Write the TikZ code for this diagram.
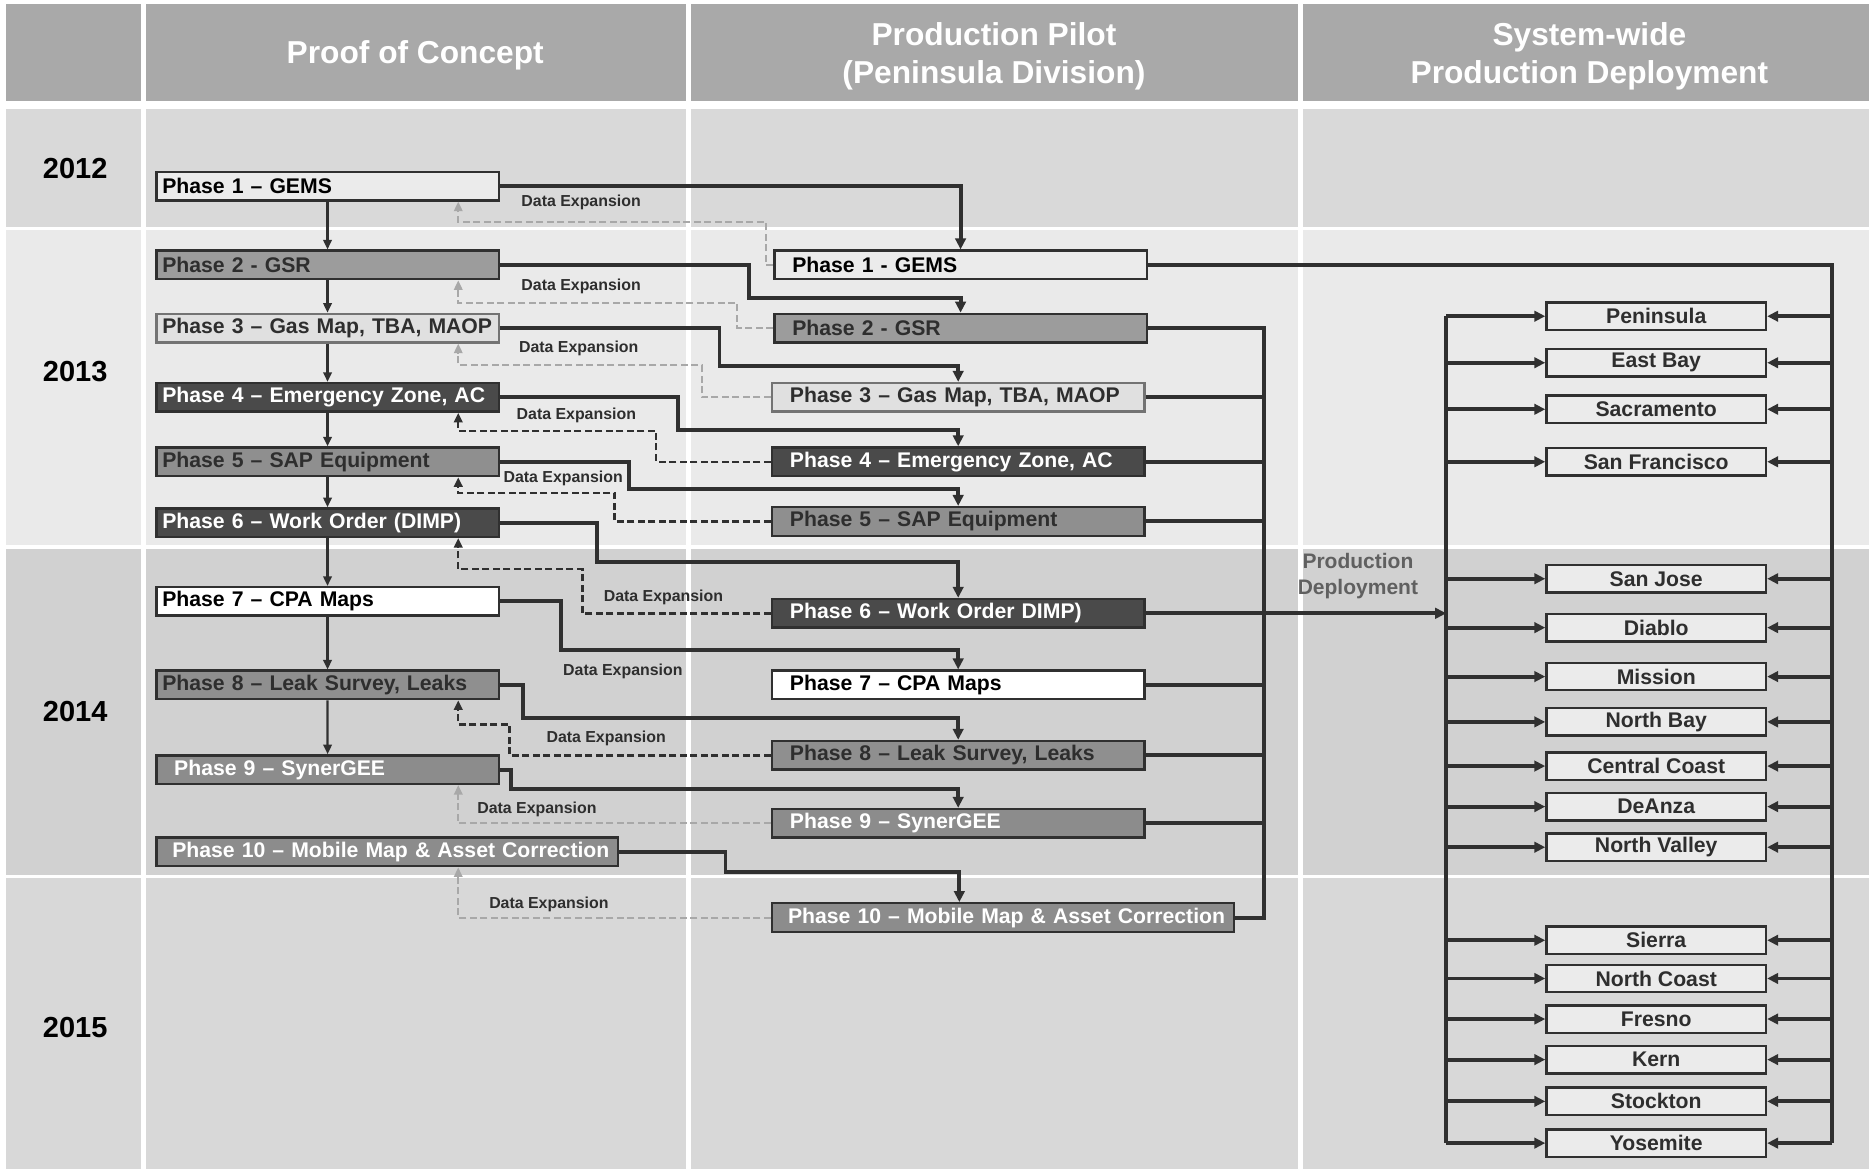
\documentclass[tikz,border=0pt]{standalone}
\usepackage{fontspec}
\setmainfont{Liberation Sans}
\usetikzlibrary{arrows.meta}
\definecolor{hdr}{HTML}{A9A9A9}
\definecolor{b12}{HTML}{D9D9D9}
\definecolor{b13}{HTML}{EAEAEA}
\definecolor{b14}{HTML}{D1D1D1}
\definecolor{b15}{HTML}{D8D8D8}
\definecolor{ink}{HTML}{2E2E2E}
\definecolor{lineclr}{HTML}{303030}
\definecolor{lightdash}{HTML}{A8A8A8}
\begin{document}
\begin{tikzpicture}[x=1.1932pt,y=-1.1932pt,
  box/.style={draw=lineclr, line width=2.4pt, anchor=north west, minimum height=28.6pt,
    inner ysep=0pt, align=left, font=\fontsize{21.2}{24}\selectfont\bfseries},
  lbox/.style={box, inner xsep=5.97pt, text width=330.5pt},
  lboxi/.style={box, inner xsep=17.9pt, text width=306.7pt},
  mbox/.style={box, inner xsep=17.9pt, text width=336.5pt},
  widebox/.style={box, inner xsep=16pt, text width=429.8pt},
  rbox/.style={draw=lineclr, line width=2.4pt, fill=tA, minimum width=219.5pt, minimum height=27.4pt,
    inner sep=0pt, text=ink, font=\fontsize{21.2}{24}\selectfont\bfseries},
  toneA/.style={fill=tA, text=black},
  toneB/.style={fill=tB, text=ink},
  toneC/.style={fill=tC, text=ink, draw=gray!90!black},
  toneD/.style={fill=tD, text=white},
  toneE/.style={fill=tE, text=ink},
  toneW/.style={fill=white, text=black},
  toneF/.style={fill=tF, text=white},
  conn/.style={draw=lineclr, line width=3.9pt, -{Triangle[length=11pt,width=10.5pt]}},
  busline/.style={draw=lineclr, line width=3.9pt},
  varrow/.style={draw=lineclr, line width=2.2pt, -{Triangle[length=9.5pt,width=8.5pt]}},
  delight/.style={draw=lightdash, line width=1.9pt, dash pattern=on 7pt off 3.5pt, -{Triangle[length=9.5pt,width=8.5pt]}},
  dedark/.style={draw=lineclr, line width=2.4pt, dash pattern=on 7pt off 3.5pt, -{Triangle[length=9.5pt,width=8.5pt]}},
  delabel/.style={text=ink, font=\fontsize{15.9}{18}\selectfont\bfseries, inner sep=0pt},
  year/.style={text=black, font=\fontsize{29}{32}\selectfont\bfseries},
  hdrtxt/.style={text=white, align=center, font=\fontsize{31.7}{38}\selectfont\bfseries},
  pdlabel/.style={text=gray!75!black, align=center, font=\fontsize{21}{26}\selectfont\bfseries}
]
\colorlet{tA}{black!8}
\colorlet{tB}{black!39}
\colorlet{tC}{black!12}
\colorlet{tD}{black!71}
\colorlet{tE}{black!44}
\colorlet{tF}{black!45}
\useasboundingbox (0,0) rectangle (1568,982);
\fill[white] (0,0) rectangle (1568,982);
% bands
\foreach \ya/\yb/\c in {3/85/hdr, 91/190/b12, 193/457/b13, 460/733/b14, 736/980/b15} {
  \foreach \xa/\xb in {5/118, 122/575, 579/1088, 1092/1566} {
    \fill[\c] (\xa,\ya) rectangle (\xb,\yb);
  }
}
% headers and years
\node[hdrtxt] (h1) at (348,46) {Proof of Concept};
\node[hdrtxt] (h2) at (833,47) {Production Pilot\\(Peninsula Division)};
\node[hdrtxt] (h3) at (1332,47) {System-wide\\Production Deployment};
\node[year] (y12) at (63,141) {2012};
\node[year] (y13) at (63,311) {2013};
\node[year] (y14) at (63,596) {2014};
\node[year] (y15) at (63,861) {2015};
% proof of concept boxes
\node[lbox, toneA] (p1) at (130,143) {Phase 1 – GEMS};
\node[lbox, toneB] (p2) at (130,209) {Phase 2 - GSR};
\node[lbox, toneC] (p3) at (130,262) {Phase 3 – Gas Map, TBA, MAOP};
\node[lbox, toneD] (p4) at (130,320) {Phase 4 – Emergency Zone, AC};
\node[lbox, toneE] (p5) at (130,374) {Phase 5 – SAP Equipment};
\node[lbox, toneD] (p6) at (130,425) {Phase 6 – Work Order (DIMP)};
\node[lbox, toneW] (p7) at (130,491) {Phase 7 – CPA Maps};
\node[lbox, toneE] (p8) at (130,561) {Phase 8 – Leak Survey, Leaks};
\node[lboxi, toneF] (p9) at (130,632) {Phase 9 – SynerGEE};
\node[widebox, toneF] (p10) at (130,701) {\mbox{Phase 10 – Mobile Map \& Asset Correction}};
% pilot boxes
\node[mbox, toneA] (m1) at (648,209) {Phase 1 - GEMS};
\node[mbox, toneB] (m2) at (648,262) {Phase 2 - GSR};
\node[mbox, toneC] (m3) at (646,320) {Phase 3 – Gas Map, TBA, MAOP};
\node[mbox, toneD] (m4) at (646,374) {Phase 4 – Emergency Zone, AC};
\node[mbox, toneE] (m5) at (646,424) {Phase 5 – SAP Equipment};
\node[mbox, toneD] (m6) at (646,501) {Phase 6 – Work Order DIMP)};
\node[mbox, toneW] (m7) at (646,561) {Phase 7 – CPA Maps};
\node[mbox, toneE] (m8) at (646,620) {Phase 8 – Leak Survey, Leaks};
\node[mbox, toneF] (m9) at (646,677) {Phase 9 – SynerGEE};
\node[widebox, toneF] (m10) at (646,756) {\mbox{Phase 10 – Mobile Map \& Asset Correction}};
% division boxes
\foreach \n/\yc/\t in {r1/265/Peninsula, r2/304/East Bay, r3/343/Sacramento, r4/387/San Francisco,
  r5/485/San Jose, r6/526/Diablo, r7/567/Mission, r8/605/North Bay, r9/642/Central Coast,
  r10/676/DeAnza, r11/710/North Valley, r12/788/Sierra, r13/820/North Coast, r14/854/Fresno,
  r15/888/Kern, r16/923/Stockton, r17/958/Yosemite} {
  \node[rbox] (\n) at (1388,\yc) {\t};
}
% vertical arrows in proof of concept
\foreach \a/\b in {p1/p2, p2/p3, p3/p4, p4/p5, p5/p6, p6/p7, p7/p8, p8/p9} {
  \draw[varrow] (\a.south) -- (\b.north);
}
% proof of concept -> pilot
\draw[conn] (p1.east) -| (m1.north);
\draw[conn] (p2.east) -| (628,250) -| (m2.north);
\draw[conn] (p3.east) -| (603,307) -| (m3.north);
\draw[conn] (p4.east) -| (568,360) -| (m4.north);
\draw[conn] (p5.east) -| (527,410) -| (m5.north);
\draw[conn] (p6.east) -| (500,471) -| (m6.north);
\draw[conn] (p7.east) -| (470,545) -| (m7.north);
\draw[conn] (p8.east) -| (438,602) -| (m8.north);
\draw[conn] (p9.east) -| (428,661) -| (m9.north);
\draw[conn] (p10.east) -| (608,731) -| ([xshift=-43.6pt]m10.north);
% data expansion
\draw[delight] (m1.west) -| (642,186) -| ([xshift=130.7pt]p1.south);
\draw[delight] (m2.west) -| (618,254) -| ([xshift=130.7pt]p2.south);
\draw[delight] (m3.west) -| (588,306) -| ([xshift=130.7pt]p3.south);
\draw[dedark] (m4.west) -| (550,361) -| ([xshift=130.7pt]p4.south);
\draw[dedark] (m5.west) -| (515,413) -| ([xshift=130.7pt]p5.south);
\draw[dedark] (m6.west) -| (488,477) -| ([xshift=130.7pt]p6.south);
\draw[dedark] (m8.west) -| (427,607) -| ([xshift=130.7pt]p8.south);
\draw[delight] (m9.west) -| ([xshift=130.7pt]p9.south);
\draw[delight] (m10.west) -| ([xshift=71pt]p10.south);
\node[delabel] (de1) at (487,170) {Data Expansion};
\node[delabel] (de2) at (487,240) {Data Expansion};
\node[delabel] (de3) at (485,292) {Data Expansion};
\node[delabel] (de4) at (483,348) {Data Expansion};
\node[delabel] (de5) at (472,401) {Data Expansion};
\node[delabel] (de6) at (556,501) {Data Expansion};
\node[delabel] (de7) at (522,563) {Data Expansion};
\node[delabel] (de8) at (508,619) {Data Expansion};
\node[delabel] (de9) at (450,678) {Data Expansion};
\node[delabel] (de10) at (460,758) {Data Expansion};
% pilot -> system-wide
\coordinate (mbx) at (1059,274);
\coordinate (lbtop) at (1212,265);
\coordinate (lbbot) at (1212,958);
\coordinate (rbbot) at (1535,958);
\draw[busline] (m1.east) -| (rbbot);
\draw[busline] (m2.east) -- (m2.east -| mbx) -- (m10.east -| mbx) -- (m10.east);
\foreach \m in {m3,m4,m5,m7,m8,m9} {
  \draw[busline] (\m.east) -- (\m.east -| mbx);
}
\draw[conn] (m6.east) -- (m6.east -| lbtop);
\draw[busline] (lbtop) -- (lbbot);
\node[pdlabel] (pd) at (1138,483) {Production\\Deployment};
\foreach \n in {r1,r2,r3,r4,r5,r6,r7,r8,r9,r10,r11,r12,r13,r14,r15,r16,r17} {
  \draw[conn] (lbtop |- \n.west) -- (\n.west);
  \draw[conn] (rbbot |- \n.east) -- (\n.east);
}
\end{tikzpicture}
\end{document}
